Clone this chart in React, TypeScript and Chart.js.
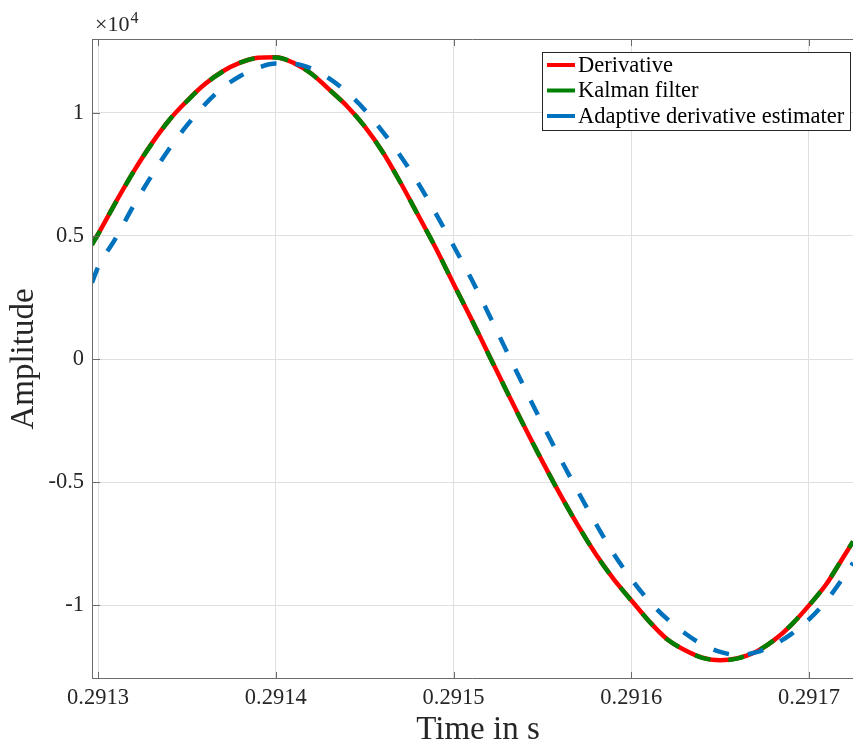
import React, { useEffect, useRef } from "react";
import { Chart, registerables } from "chart.js";

Chart.register(...registerables);

// ---- data (amplitude in raw units; axis shows x10^4) ----
const times = [
  0.2912966, 0.2913, 0.29131, 0.29132, 0.29133, 0.29134, 0.29135, 0.29136, 0.29137, 0.29138, 0.29139,
  0.2914, 0.29141, 0.29142, 0.29143, 0.29144, 0.29145, 0.29146, 0.29147, 0.29148, 0.29149,
  0.2915, 0.29151, 0.29152, 0.29153, 0.29154, 0.29155, 0.29156, 0.29157, 0.29158, 0.29159,
  0.2916, 0.29161, 0.29162, 0.29163, 0.29164, 0.29165, 0.29166, 0.29167, 0.29168, 0.29169,
  0.2917, 0.29171, 0.29172, 0.2917248,
];

const derivative = [
  4660, 5070, 6370, 7610, 8730, 9700, 10480, 11160, 11680, 12040, 12240,
  12260, 12030, 11600, 10950, 10280, 9450, 8430, 7190, 5860, 4510,
  3060, 1630, 150, -1320, -2760, -4160, -5500, -6760, -7920, -8930,
  -9800, -10650, -11370, -11820, -12130, -12240, -12150, -11900, -11440, -10810,
  -10010, -9120, -7970, -7420,
];

const kalman = [
  4640, 5060, 6360, 7610, 8720, 9700, 10470, 11160, 11670, 12040, 12230,
  12250, 12030, 11590, 10950, 10270, 9450, 8420, 7190, 5850, 4510,
  3050, 1630, 140, -1320, -2770, -4160, -5510, -6760, -7930, -8930,
  -9810, -10650, -11380, -11820, -12140, -12240, -12160, -11900, -11440, -10800,
  -10010, -9110, -7960, -7410,
];

const adaptive = [
  3100, 3720, 4910, 6230, 7430, 8530, 9490, 10330, 11010, 11500, 11830,
  12000, 11990, 11800, 11400, 10840, 10130, 9250, 8270, 7160, 5920,
  4600, 3260, 1800, 300, -1180, -2630, -4030, -5380, -6680, -7900,
  -8930, -9830, -10550, -11130, -11600, -11900, -12030, -11920, -11620, -11180,
  -10580, -9800, -8800, -8280,
];

const seriesNames = ["Derivative", "Kalman filter", "Adaptive derivative estimater"];
const seriesColors = ["#ff0000", "#008000", "#0072bd"];
const xTicks = [0.2913, 0.2914, 0.2915, 0.2916, 0.2917];
const yTicks = [-10000, -5000, 0, 5000, 10000];
const xMin = 0.291296624;
const xMax = 0.291724754;
const yMin = -13000;
const yMax = 13000;
const xTitle = "Time in s";
const yTitle = "Amplitude";
const exponentBase = "\u00d710";
const exponentPower = "4";

const FONT = "'Liberation Serif', 'DejaVu Serif', serif";
const TEXT = "#262626";
const AXIS = "#6b6b6b";

const framePlugin = {
  id: "frame",
  afterDraw(chart: any) {
    const { ctx, chartArea: a, scales } = chart;
    const xs = scales.x;
    const ys = scales.y;
    ctx.save();
    // axes box
    ctx.strokeStyle = AXIS;
    ctx.lineWidth = 1;
    ctx.beginPath();
    ctx.moveTo(Math.round(a.left) + 0.5, a.bottom);
    ctx.lineTo(Math.round(a.left) + 0.5, a.top);
    ctx.moveTo(a.left, Math.round(a.top) + 0.5);
    ctx.lineTo(a.right, Math.round(a.top) + 0.5);
    ctx.moveTo(a.left, Math.round(a.bottom) - 0.5);
    ctx.lineTo(a.right, Math.round(a.bottom) - 0.5);
    // inside ticks
    for (const v of xTicks) {
      const px = Math.round(xs.getPixelForValue(v)) + 0.5;
      ctx.moveTo(px, a.bottom);
      ctx.lineTo(px, a.bottom - 7);
      ctx.moveTo(px, a.top);
      ctx.lineTo(px, a.top + 7);
    }
    for (const v of yTicks) {
      const py = Math.round(ys.getPixelForValue(v)) + 0.5;
      ctx.moveTo(a.left, py);
      ctx.lineTo(a.left + 8, py);
    }
    ctx.stroke();

    // exponent label
    ctx.fillStyle = TEXT;
    ctx.textBaseline = "alphabetic";
    ctx.textAlign = "left";
    ctx.font = `22px ${FONT}`;
    ctx.fillText(exponentBase, 95, 31);
    const w = ctx.measureText(exponentBase).width;
    ctx.font = `16px ${FONT}`;
    ctx.fillText(exponentPower, 95 + w + 1, 23);

    // axis titles
    ctx.font = `33px ${FONT}`;
    ctx.textAlign = "center";
    ctx.textBaseline = "middle";
    ctx.fillText(xTitle, 478, 730);
    ctx.save();
    ctx.translate(24, (a.top + a.bottom) / 2);
    ctx.rotate(-Math.PI / 2);
    ctx.fillText(yTitle, 0, 0);
    ctx.restore();

    // legend
    const bx = 542.5, by = 52.5, bw = 308, bh = 78;
    ctx.fillStyle = "#ffffff";
    ctx.fillRect(bx, by, bw, bh);
    ctx.strokeStyle = TEXT;
    ctx.lineWidth = 1;
    ctx.strokeRect(bx, by, bw, bh);
    ctx.font = `22.5px ${FONT}`;
    ctx.textAlign = "left";
    ctx.textBaseline = "middle";
    const rows = [65, 90.5, 116];
    seriesNames.forEach((name, i) => {
      ctx.strokeStyle = seriesColors[i];
      ctx.lineWidth = 4;
      ctx.beginPath();
      ctx.moveTo(547, rows[i]);
      ctx.lineTo(575, rows[i]);
      ctx.stroke();
      ctx.fillStyle = "#000000";
      ctx.fillText(name, 578, rows[i] + 1);
    });
    ctx.restore();
  },
};

export default function App() {
  const ref = useRef<HTMLCanvasElement>(null);

  useEffect(() => {
    const toPoints = (vals: number[]) => times.map((t, i) => ({ x: t, y: vals[i] }));
    const chart = new Chart(ref.current as HTMLCanvasElement, {
      type: "line",
      data: {
        datasets: [
          {
            label: seriesNames[0],
            data: toPoints(derivative),
            borderColor: seriesColors[0],
            borderWidth: 4.5,
            pointRadius: 0,
            fill: false,
            cubicInterpolationMode: "monotone",
            order: 3,
          },
          {
            label: seriesNames[1],
            data: toPoints(kalman),
            borderColor: seriesColors[1],
            borderWidth: 4.5,
            borderDash: [16, 18],
            pointRadius: 0,
            fill: false,
            cubicInterpolationMode: "monotone",
            order: 2,
          },
          {
            label: seriesNames[2],
            data: toPoints(adaptive),
            borderColor: seriesColors[2],
            borderWidth: 4.5,
            borderDash: [16, 19],
            pointRadius: 0,
            fill: false,
            cubicInterpolationMode: "monotone",
            order: 1,
          },
        ],
      },
      options: {
        responsive: false,
        animation: false,
        devicePixelRatio: 1,
        layout: { padding: { top: 39, left: 0, right: 0, bottom: 0 } },
        plugins: {
          legend: { display: false },
          tooltip: { enabled: false },
        },
        scales: {
          x: {
            type: "linear",
            min: xMin,
            max: xMax,
            afterBuildTicks: (s: any) => {
              s.ticks = xTicks.map((v) => ({ value: v }));
            },
            afterFit: (s: any) => {
              s.height = 66;
            },
            grid: { color: "#dfdfdf", lineWidth: 1, drawTicks: false },
            border: { display: false },
            ticks: {
              padding: 6,
              color: TEXT,
              font: { family: FONT, size: 22.5 },
              maxRotation: 0,
              autoSkip: false,
              callback: (v: any) => Number(v).toFixed(4),
            },
          },
          y: {
            type: "linear",
            min: yMin,
            max: yMax,
            afterBuildTicks: (s: any) => {
              s.ticks = yTicks.map((v) => ({ value: v }));
            },
            afterFit: (s: any) => {
              s.width = 92;
            },
            grid: { color: "#dfdfdf", lineWidth: 1, drawTicks: false },
            border: { display: false },
            ticks: {
              padding: 8,
              color: TEXT,
              font: { family: FONT, size: 22.5 },
              autoSkip: false,
              callback: (v: any) => String(Number(v) / 10000),
            },
          },
        },
      },
      plugins: [framePlugin],
    } as any);
    return () => chart.destroy();
  }, []);

  return (
    <div
      style={{
        position: "fixed",
        left: 0,
        top: 0,
        width: 853,
        height: 745,
        background: "#ffffff",
      }}
    >
      <canvas ref={ref} width={853} height={745} style={{ display: "block", width: 853, height: 745 }} />
    </div>
  );
}
